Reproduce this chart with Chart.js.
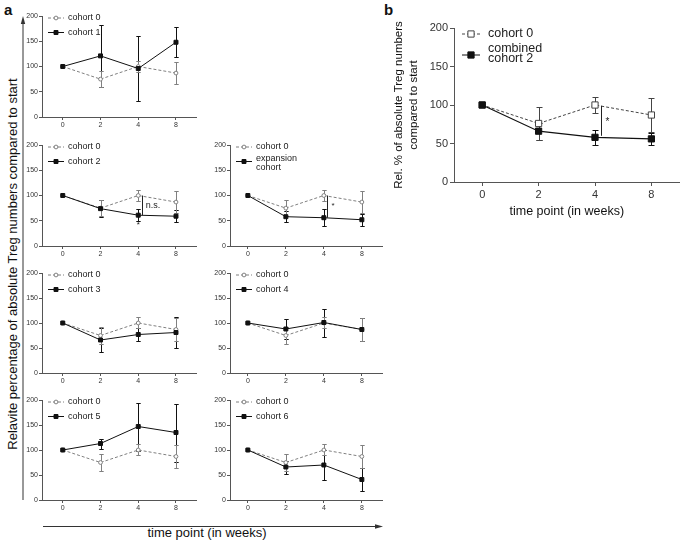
<!DOCTYPE html>
<html><head><meta charset="utf-8">
<script src="https://cdn.jsdelivr.net/npm/chart.js@4.4.0/dist/chart.umd.min.js"></script>
<style>
body{margin:0;background:#fff;width:685px;height:540px;position:relative;overflow:hidden;font-family:"Liberation Sans",Arial,sans-serif;}
canvas{position:absolute;}
.lbl{position:absolute;color:#111;white-space:nowrap;line-height:1;}
</style></head><body>
<div class="lbl" style="left:4px;top:2px;font-weight:bold;font-size:15px">a</div>
<div class="lbl" style="left:384px;top:2px;font-weight:bold;font-size:15px">b</div>
<div class="lbl" style="left:12px;top:264px;transform:translate(-50%,-50%) rotate(-90deg);font-size:13px">Relavite percentage of absolute Treg numbers compared to start</div>
<div class="lbl" style="left:207px;top:532px;transform:translate(-50%,-50%);font-size:13px">time point (in weeks)</div>
<svg style="position:absolute;left:0;top:0" width="685" height="540">
 <line x1="23" y1="500" x2="23" y2="22" stroke="#333" stroke-width="1"/>
 <polygon points="23,16 20.8,24 25.2,24" fill="#333"/>
 <line x1="43" y1="526.5" x2="376" y2="526.5" stroke="#333" stroke-width="1"/>
 <polygon points="383,526.5 375,524.3 375,528.7" fill="#333"/>
</svg>
<canvas id="c1" width="190" height="125"></canvas>
<canvas id="c2" width="190" height="125"></canvas>
<canvas id="c3" width="190" height="125"></canvas>
<canvas id="c4" width="190" height="124"></canvas>
<canvas id="c5" width="190" height="124"></canvas>
<canvas id="c6" width="190" height="124"></canvas>
<canvas id="c7" width="190" height="124"></canvas>
<canvas id="cb" width="305" height="225"></canvas>
<script>
// ---- data ----
const weeks = ['0', '2', '4', '8'];
const yTicks = [0, 50, 100, 150, 200];
const cohort0 = [100, 75, 100, 87];
const cohort0Sd = [0, 16, 11, 22];
const cohort1 = [100, 121, 96, 148];
const cohort1Sd = [0, 62, 64, 30];
const cohort2 = [100, 74, 61, 59];
const cohort2Sd = [0, 17, 12, 12];
const expansion = [100, 58, 56, 52];
const expansionSd = [0, 11, 17, 12];
const cohort3 = [100, 66, 77, 81];
const cohort3Sd = [0, 23, 13, 30];
const cohort4 = [100, 88, 101, 87];
const cohort4Sd = [0, 20, 28, 23];
const cohort5 = [100, 113, 147, 135];
const cohort5Sd = [0, 10, 48, 58];
const cohort6 = [100, 66, 70, 41];
const cohort6Sd = [0, 13, 30, 23];
const bCohort0 = [100, 76, 100, 87];
const bCohort0Sd = [0, 21, 10, 22];
const bCombined = [100, 66, 58, 56];
const bCombinedSd = [0, 11, 10, 8];

Chart.defaults.font.family = "'Liberation Sans', Arial, sans-serif";
Chart.defaults.color = '#333';

function drawMarker(ctx, style, filled, color, r, x, y) {
  ctx.save();
  ctx.lineWidth = 1;
  ctx.strokeStyle = color;
  ctx.fillStyle = filled ? color : '#fff';
  ctx.beginPath();
  if (style === 'circle') ctx.arc(x, y, r, 0, Math.PI * 2);
  else { const s = r * Math.SQRT1_2; ctx.rect(x - s, y - s, 2 * s, 2 * s); }
  ctx.fill(); ctx.stroke();
  ctx.restore();
}

const errorBars = {
  id: 'errorBars',
  beforeDatasetsDraw(chart) {
    const { ctx } = chart; const xs = chart.scales.x, ys = chart.scales.y;
    chart.data.datasets.forEach(ds => {
      if (!ds.errors) return;
      const cap = ds.capHalf || 2.5;
      ctx.save(); ctx.strokeStyle = ds.borderColor; ctx.lineWidth = 1;
      ds.data.forEach((p, i) => {
        const e = ds.errors[i]; if (!e) return;
        const x = Math.round(xs.getPixelForValue(p.x)) + 0.5;
        const y1 = Math.round(ys.getPixelForValue(p.y + e)) + 0.5;
        const y2 = Math.round(ys.getPixelForValue(p.y - e)) + 0.5;
        ctx.beginPath();
        ctx.moveTo(x, y1); ctx.lineTo(x, y2);
        ctx.moveTo(x - cap, y1); ctx.lineTo(x + cap, y1);
        ctx.moveTo(x - cap, y2); ctx.lineTo(x + cap, y2);
        ctx.stroke();
      });
      ctx.restore();
    });
  }
};

function makeLegend(o) {
  return {
    id: 'miniLegend',
    afterDraw(chart) {
      const { ctx, chartArea: ca } = chart;
      o.items.forEach((it, k) => {
        const y = ca.top + o.y0 + k * o.dy;
        const x0 = ca.left + o.x0;
        ctx.save();
        ctx.strokeStyle = it.color; ctx.lineWidth = 1; ctx.setLineDash(it.dash);
        ctx.beginPath(); ctx.moveTo(x0, y); ctx.lineTo(x0 + o.len, y); ctx.stroke();
        ctx.setLineDash([]);
        drawMarker(ctx, it.style, it.filled, it.color, it.r, x0 + o.len / 2, y);
        ctx.fillStyle = '#222';
        ctx.font = o.size + "px 'Liberation Sans', Arial, sans-serif";
        ctx.textBaseline = 'middle';
        ctx.textAlign = 'left';
        const lines = it.text.split('\n');
        lines.forEach((ln, j) => ctx.fillText(ln, x0 + o.len + o.gap, y + it.shift + (j - (lines.length - 1) / 2) * o.lh));
        ctx.restore();
      });
    }
  };
}

function makeSig(o) {
  return {
    id: 'sigMarks',
    afterDatasetsDraw(chart) {
      const { ctx } = chart; const xs = chart.scales.x, ys = chart.scales.y;
      ctx.save();
      ctx.strokeStyle = '#222'; ctx.lineWidth = 1;
      o.lines.forEach(l => {
        const x = Math.round(xs.getPixelForValue(l.x)) + 0.5;
        ctx.beginPath(); ctx.moveTo(x, ys.getPixelForValue(l.y1)); ctx.lineTo(x, ys.getPixelForValue(l.y2)); ctx.stroke();
      });
      ctx.fillStyle = '#222'; ctx.textBaseline = 'middle';
      o.texts.forEach(t => {
        ctx.font = t.size + "px 'Liberation Sans', Arial, sans-serif";
        ctx.textAlign = t.align;
        ctx.fillText(t.text, xs.getPixelForValue(t.x), ys.getPixelForValue(t.y));
      });
      ctx.restore();
    }
  };
}

const pts = arr => arr.map((v, i) => ({ x: i, y: v }));

function axes(o) {
  const gridCommon = { drawOnChartArea: false, drawTicks: true, tickLength: o.tick, color: '#555', lineWidth: 1 };
  return {
    x: {
      type: 'linear', min: o.xmin, max: o.xmax,
      afterBuildTicks: s => { s.ticks = weeks.map((w, i) => ({ value: i })); },
      ticks: { callback: v => weeks[v], font: { size: o.fs }, padding: o.tpad, color: '#333', maxRotation: 0 },
      grid: gridCommon, border: { color: '#555', width: 1 },
      title: o.xTitle ? { display: true, text: o.xTitle, font: { size: o.tfs }, color: '#111', padding: { top: 0, bottom: 6 } } : { display: false },
      afterFit: s => { s.height = o.xh; }
    },
    y: {
      min: 0, max: 200,
      afterBuildTicks: s => { s.ticks = yTicks.map(v => ({ value: v })); },
      ticks: { font: { size: o.fs }, padding: o.ypad, color: '#333' },
      grid: gridCommon, border: { color: '#555', width: 1 },
      title: o.yTitle ? { display: true, text: o.yTitle, font: { size: o.ytfs, lineHeight: 1.3 }, color: '#111', padding: { top: 11, bottom: 0 } } : { display: false },
      afterFit: s => { s.width = o.yw; }
    }
  };
}

function smallChart(id, left, top, xmin, padRight, main, mainSd, label, sig) {
  const cv = document.getElementById(id);
  cv.style.left = left + 'px'; cv.style.top = top + 'px';
  const legend = makeLegend({ x0: 6, y0: 2, dy: 14.5, len: 16, gap: 4, size: 9, lh: 9, items: [
    { text: 'cohort 0', color: '#808080', dash: [3, 2], style: 'circle', filled: false, r: 1.9, shift: 0 },
    { text: label, color: '#111', dash: [], style: 'rect', filled: true, r: 2.8, shift: label.includes('\n') ? 1.5 : 0 }
  ] });
  const plugins = [errorBars, legend];
  if (sig) plugins.push(makeSig(sig));
  new Chart(cv, {
    type: 'line',
    data: {
      datasets: [
        { label: label, data: pts(main), errors: mainSd, borderColor: '#111', backgroundColor: '#111', borderWidth: 1,
          pointStyle: 'rect', pointRadius: 2.8, pointBorderWidth: 1, pointBackgroundColor: '#111', capHalf: 2.2, order: 0 },
        { label: 'cohort 0', data: pts(cohort0), errors: cohort0Sd, borderColor: '#808080', backgroundColor: '#fff', borderWidth: 1, borderDash: [3, 2],
          pointStyle: 'circle', pointRadius: 1.9, pointBorderWidth: 1, pointBackgroundColor: '#fff', capHalf: 2.2, order: 1 }
      ]
    },
    options: {
      responsive: false, animation: false, devicePixelRatio: 1,
      layout: { padding: { top: 8, right: padRight, left: 0, bottom: 0 } },
      scales: axes({ xmin: xmin, xmax: 3.53, tick: 3, fs: 7, tpad: 1, ypad: 1, xh: 16, yw: 30 }),
      plugins: { legend: { display: false }, tooltip: { enabled: false } }
    },
    plugins: plugins
  });
}

smallChart('c1', 12, 8, -0.55, 6, cohort1, cohort1Sd, 'cohort 1');
smallChart('c2', 12, 137, -0.55, 6, cohort2, cohort2Sd, 'cohort 2', {
  lines: [{ x: 2.1, y1: 100, y2: 61 }],
  texts: [{ x: 2.2, y: 80, text: 'n.s.', size: 9, align: 'left' }, { x: 2, y: 41, text: '*', size: 8, align: 'center' }]
});
smallChart('c3', 200, 137, -0.47, 8, expansion, expansionSd, 'expansion\ncohort', {
  lines: [{ x: 2.08, y1: 100, y2: 56 }],
  texts: [{ x: 2.24, y: 79, text: '*', size: 8, align: 'center' }]
});
smallChart('c4', 12, 265, -0.55, 6, cohort3, cohort3Sd, 'cohort 3');
smallChart('c5', 200, 265, -0.47, 8, cohort4, cohort4Sd, 'cohort 4');
smallChart('c6', 12, 392, -0.55, 6, cohort5, cohort5Sd, 'cohort 5');
smallChart('c7', 200, 392, -0.47, 8, cohort6, cohort6Sd, 'cohort 6');

// panel b
const cb = document.getElementById('cb');
cb.style.left = '380px'; cb.style.top = '0px';
new Chart(cb, {
  type: 'line',
  data: {
    datasets: [
      { label: 'combined cohort 2', data: pts(bCombined), errors: bCombinedSd, borderColor: '#111', backgroundColor: '#111', borderWidth: 1.2,
        pointStyle: 'rect', pointRadius: 4.4, pointBorderWidth: 1, pointBackgroundColor: '#111', capHalf: 3, order: 0 },
      { label: 'cohort 0', data: pts(bCohort0), errors: bCohort0Sd, borderColor: '#444', backgroundColor: '#fff', borderWidth: 1, borderDash: [3, 2],
        pointStyle: 'rect', pointRadius: 4.4, pointBorderWidth: 1, pointBackgroundColor: '#fff', capHalf: 3, order: 1 }
    ]
  },
  options: {
    responsive: false, animation: false, devicePixelRatio: 1,
    layout: { padding: { top: 28, right: 2, left: 0, bottom: 0 } },
    scales: axes({ xmin: -0.5, xmax: 3.5, tick: 4, fs: 11, tpad: 2, ypad: 2, xh: 43, yw: 74, tfs: 12.5, ytfs: 11.5,
      xTitle: 'time point (in weeks)', yTitle: ['Rel. % of absolute Treg numbers', 'compared to start'] }),
    plugins: { legend: { display: false }, tooltip: { enabled: false } }
  },
  plugins: [errorBars,
    makeLegend({ x0: 8, y0: 6, dy: 21, len: 18, gap: 8, size: 12.5, lh: 10.5, items: [
      { text: 'cohort 0', color: '#444', dash: [3, 2], style: 'rect', filled: false, r: 4.4, shift: 0 },
      { text: 'combined\ncohort 2', color: '#111', dash: [], style: 'rect', filled: true, r: 4.4, shift: -1.5 }
    ] }),
    makeSig({ lines: [{ x: 2.1, y1: 99, y2: 60 }], texts: [{ x: 2.22, y: 78, text: '*', size: 10, align: 'center' }] })
  ]
});
</script>
</body></html>
